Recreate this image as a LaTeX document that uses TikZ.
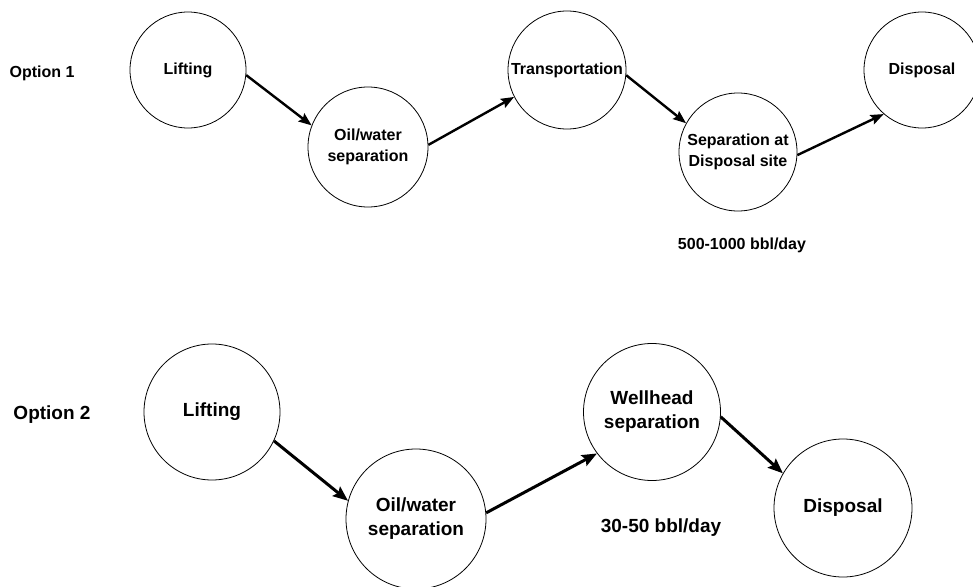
\documentclass[tikz,border=0pt]{standalone}
\usepackage{fontspec}
\setmainfont{Liberation Sans}
\usetikzlibrary{arrows.meta}
\begin{document}
\begin{tikzpicture}[x=1pt,y=-1pt,
  stageA/.style={circle,draw,line width=0.8pt,inner sep=0pt,align=center,
    font=\bfseries\fontsize{16}{21}\selectfont},
  stageB/.style={circle,draw,line width=0.8pt,inner sep=0pt,align=center,
    font=\bfseries\fontsize{19}{24}\selectfont},
  lblA/.style={font=\bfseries\fontsize{16}{21}\selectfont,inner sep=0pt},
  lblB/.style={font=\bfseries\fontsize{19}{24}\selectfont,inner sep=0pt},
  connA/.style={line width=2.4pt,-{Stealth[length=13pt,width=10pt,inset=2pt]}},
  connB/.style={line width=3pt,-{Stealth[length=15pt,width=12pt,inset=2.5pt]}}]
\useasboundingbox (0,0) rectangle (973,586);
% Option 1
\node[lblA] (opt1) at (42,73) {Option 1};
\node[stageA,minimum size=116pt] (lift1) at (188,70) {Lifting};
\node[stageA,minimum size=120pt] (oil1) at (368,147) {Oil/water\\separation};
\node[stageA,minimum size=118pt] (trans1) at (567,70) {Transportation};
\node[stageA,minimum size=118pt] (sep1) at (738,152) {Separation at\\Disposal site};
\node[stageA,minimum size=116pt] (disp1) at (922,70) {Disposal};
\node[lblA] (rate1) at (742,245) {500-1000 bbl/day};
\draw[connA] (lift1.-5) -- (oil1.159);
\draw[connA] (oil1.2) -- (trans1.207);
\draw[connA] (trans1.-5) -- (sep1.151);
\draw[connA] (sep1.-3) -- (disp1.229);
% Option 2
\node[lblB] (opt2) at (52,415) {Option 2};
\node[stageB,minimum size=136pt] (lift2) at (212,412) {Lifting};
\node[stageB,minimum size=140pt] (oil2) at (416,519) {Oil/water\\separation};
\node[stageB,minimum size=137pt] (well2) at (652,412) {Wellhead\\separation};
\node[stageB,minimum size=138pt] (disp2) at (843,508) {Disposal};
\node[lblB] (rate2) at (661,528) {30-50 bbl/day};
\draw[connB] (lift2.-25) -- (oil2.165);
\draw[connB] (oil2.5) -- (well2.217);
\draw[connB] (well2.-4) -- (disp2.150);
\end{tikzpicture}
\end{document}
